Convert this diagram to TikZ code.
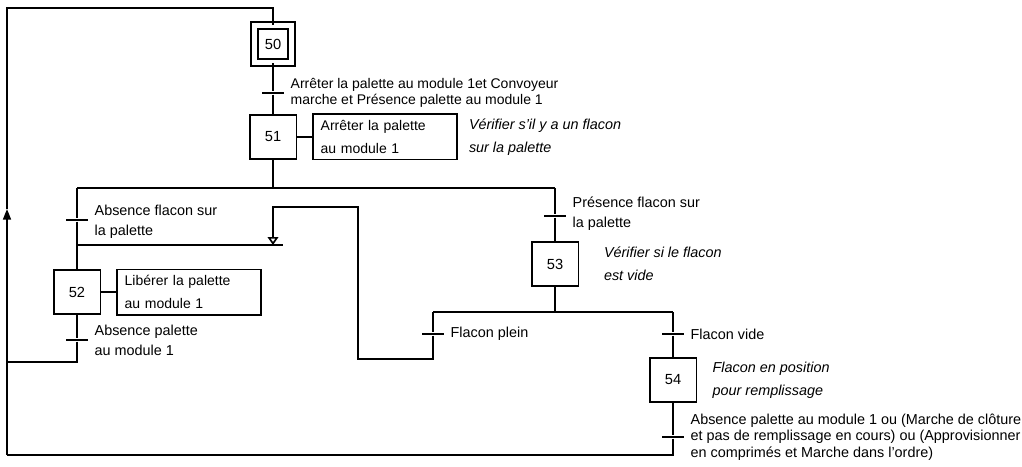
\documentclass[tikz,border=0pt]{standalone}
\usepackage{fontspec}
\setmainfont{Liberation Sans}
\usetikzlibrary{arrows.meta, positioning, calc}
\tikzset{
    etape/.style={rectangle, draw, minimum width=35pt, minimum height=33pt, inner sep=0pt, font=\fontsize{11}{13}\selectfont},
    initstep/.style={etape, double, double distance=4pt, minimum width=27.5pt, minimum height=27.5pt},
    action/.style={rectangle, draw, align=left, text width=96pt, inner xsep=6pt, inner ysep=3pt, minimum height=34pt, font=\fontsize{10.5}{17}\selectfont},
    comment/.style={align=left, inner sep=1pt, font=\fontsize{10.8}{17}\selectfont\itshape},
    trans/.style={rectangle, fill=black, minimum width=16pt, minimum height=1.3pt, inner sep=0pt},
    tlabel/.style={align=left, inner sep=1pt, font=\fontsize{10.8}{15}\selectfont},
    openarrow/.style={-{Triangle[open, length=6pt, width=8pt]}},
    fullarrow/.style={-{Triangle[length=8pt, width=6pt]}}
}
\begin{document}
\begin{tikzpicture}[x=0.75pt, y=-0.75pt, line width=1.25pt, node distance=4pt]
    \useasboundingbox (0,0) rectangle (1022,467);

    % etapes
    \node[initstep] (s50) at (273,44) {50};
    \node[etape] (s51) at (273,137) {51};
    \node[etape] (s52) at (77,292) {52};
    \node[etape] (s53) at (555,264) {53};
    \node[etape] (s54) at (673,380) {54};

    % actions et commentaires
    \node[action, right=11pt of s51] (a51) {Arrêter la palette\\au module 1};
    \node[action, right=11pt of s52] (a52) {Libérer la palette\\au module 1};
    \node[comment, right=7pt of a51] (c51) {Vérifier s'il y a un flacon\\sur la palette};
    \node[comment, right=17pt of s53] (c53) {Vérifier si le flacon\\est vide};
    \node[comment, right=10pt of s54] (c54) {Flacon en position\\pour remplissage};

    % transitions
    \node[trans] (t50) at (273,93) {};
    \node[trans] (t51a) at (77,220) {};
    \node[trans] (t51b) at (555,216) {};
    \node[trans] (t52) at (77,340) {};
    \node[trans] (t53a) at (433,334) {};
    \node[trans] (t53b) at (673,334) {};
    \node[trans] (t54) at (673,437) {};

    \node[tlabel, right=3pt of t50, font=\fontsize{10.5}{11.5}\selectfont] (r50) {Arrêter la palette au module 1et Convoyeur\\marche et Présence palette au module 1};
    \node[tlabel, right=3pt of t51a, yshift=-1pt] (r51a) {Absence flacon sur\\la palette};
    \node[tlabel, right=3pt of t51b, yshift=2pt] (r51b) {Présence flacon sur\\la palette};
    \node[tlabel, right=3pt of t52] (r52) {Absence palette\\au module 1};
    \node[tlabel, right=3pt of t53a] (r53a) {Flacon plein};
    \node[tlabel, right=3pt of t53b] (r53b) {Flacon vide};
    \node[tlabel, right=3pt of t54, font=\fontsize{10.8}{12.5}\selectfont] (r54) {Absence palette au module 1 ou (Marche de clôture\\et pas de remplissage en cours) ou (Approvisionner\\en comprimés et Marche dans l'ordre)};

    % points de liaison
    \coordinate (d51L) at (77,188);
    \coordinate (d51R) at (555,188);
    \coordinate (c52L) at (77,245);
    \coordinate (c52R) at (283,245);
    \coordinate (c52in) at (273,245);
    \coordinate (lp1) at (273,207);
    \coordinate (lp2) at (358,207);
    \coordinate (lp3) at (358,359);
    \coordinate (lp4) at (433,359);
    \coordinate (d53L) at (433,312);
    \coordinate (d53R) at (673,312);
    \coordinate (b52) at (77,362);
    \coordinate (l52) at (7,362);
    \coordinate (b54) at (673,455);
    \coordinate (bl) at (7,455);
    \coordinate (arr) at (7,209);
    \coordinate (tl) at (7,8);
    \coordinate (tr) at (273,8);

    % liaisons
    \draw (s50) -- (t50) -- (s51);
    \draw (s51) -- (s51 |- d51L);
    \draw (d51L) -- (d51R);
    \draw (d51L) -- (t51a) -- (s52);
    \draw (c52L) -- (c52R);
    \draw (d51R) -- (t51b) -- (s53);
    \draw (s53) -- (s53 |- d53L);
    \draw (d53L) -- (d53R);
    \draw (d53R) -- (t53b) -- (s54);
    \draw[openarrow] (d53L) -- (t53a) -- (lp4) -- (lp3) -- (lp2) -- (lp1) -- (c52in);
    \draw (s51) -- (a51);
    \draw (s52) -- (a52);
    \draw (s52) -- (t52) -- (b52) -- (l52);
    \draw (s54) -- (t54) -- (b54) -- (bl);
    \draw[fullarrow] (bl) -- (arr);
    \draw (arr) -- (tl) -- (tr) -- (s50);
\end{tikzpicture}
\end{document}
